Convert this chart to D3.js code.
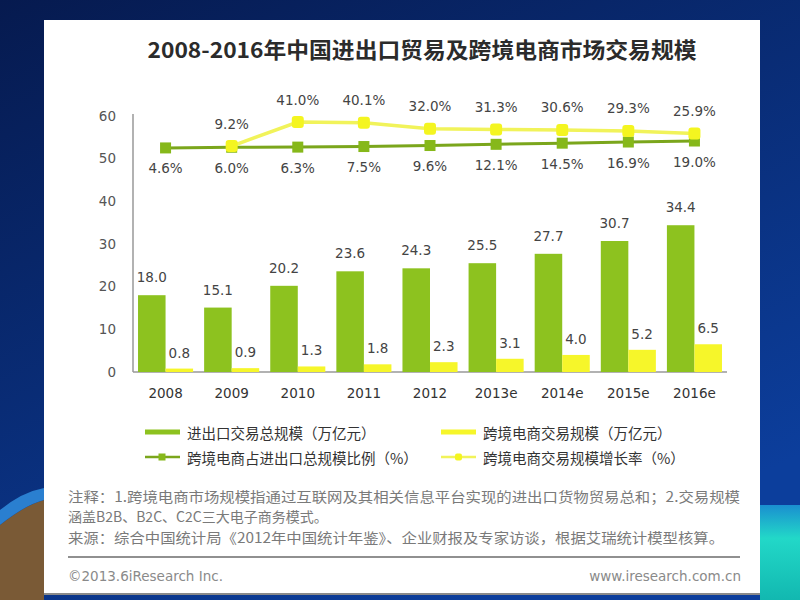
<!DOCTYPE html>
<html><head><meta charset="utf-8">
<script src="https://cdn.jsdelivr.net/npm/d3@7/dist/d3.min.js"></script>
<style>html,body{margin:0;padding:0;background:#0b2260;}svg{display:block;}</style>
</head><body>
<svg id="chart" width="800" height="600"></svg>
<script>
const categories = ["2008","2009","2010","2011","2012","2013e","2014e","2015e","2016e"];
const tradeTotal = [18.0,15.1,20.2,23.6,24.3,25.5,27.7,30.7,34.4];
const crossBorder = [0.8,0.9,1.3,1.8,2.3,3.1,4.0,5.2,6.5];
const shareRatio = [4.6,6.0,6.3,7.5,9.6,12.1,14.5,16.9,19.0];
const growthRate = [null,9.2,41.0,40.1,32.0,31.3,30.6,29.3,25.9];
const yTicks = [0,10,20,30,40,50,60];
const titleText = "2008-2016年中国进出口贸易及跨境电商市场交易规模";
const legendLabels = ["进出口交易总规模（万亿元）","跨境电商交易规模（万亿元）","跨境电商占进出口总规模比例（%）","跨境电商交易规模增长率（%）"];
const notes = ["注释：1.跨境电商市场规模指通过互联网及其相关信息平台实现的进出口货物贸易总和；2.交易规模","涵盖B2B、B2C、C2C三大电子商务模式。","来源：综合中国统计局《2012年中国统计年鉴》、企业财报及专家访谈，根据艾瑞统计模型核算。"];
const footerLeft = "©2013.6iResearch Inc.";
const footerRight = "www.iresearch.com.cn";

const GREEN = "#8dc21f", YELLOW = "#f6f62a", GREEN_LINE = "#7ba61c", YELLOW_LINE = "#f1f35a";
const FONT = "'DejaVu Sans','Noto Sans CJK SC',sans-serif";
const CJK = "'Noto Sans CJK SC','DejaVu Sans',sans-serif";

const svg = d3.select("#chart");
// background
const defs = svg.append("defs");
const g1 = defs.append("linearGradient").attr("id","bg").attr("x1","0").attr("y1","0").attr("x2","0.6").attr("y2","1");
g1.append("stop").attr("offset","0").attr("stop-color","#061a4f");
g1.append("stop").attr("offset","1").attr("stop-color","#0c3e9c");
svg.append("rect").attr("width",800).attr("height",600).attr("fill","url(#bg)");
const g2 = defs.append("linearGradient").attr("id","teal").attr("x1","0").attr("y1","0").attr("x2","0").attr("y2","1");
g2.append("stop").attr("offset","0").attr("stop-color","#1a8fd0");
g2.append("stop").attr("offset","0.35").attr("stop-color","#22d8c8");
g2.append("stop").attr("offset","1").attr("stop-color","#12b8b0");
svg.append("rect").attr("x",760).attr("y",505).attr("width",40).attr("height",95).attr("fill","url(#teal)");
svg.append("path").attr("d","M0,525 Q25,505 44,500 L44,600 L0,600 Z").attr("fill","#7a5a36");
svg.append("path").attr("d","M0,510 Q22,492 44,488 L44,500 Q25,505 0,525 Z").attr("fill","#2a7fd0");

// panel
svg.append("rect").attr("x",44).attr("y",20).attr("width",716).attr("height",574).attr("fill","#ffffff");
svg.append("line").attr("x1",44).attr("x2",760).attr("y1",594).attr("y2",594).attr("stroke","#8a8a8a").attr("stroke-width",2);

// title
svg.append("text").attr("x",422).attr("y",58).attr("text-anchor","middle")
  .attr("font-family",CJK).attr("font-weight","bold").attr("font-size",21.5).attr("fill","#2b2b2b")
  .attr("textLength",549).attr("lengthAdjust","spacingAndGlyphs").text(titleText);

// scales
const x = d3.scaleBand().domain(categories).range([133,727]).paddingInner(0.167).paddingOuter(0.076);
const xs = d3.scaleBand().domain(["total","cb"]).range([0,x.bandwidth()]);
const y = d3.scaleLinear().domain([0,60]).range([372,116]);
const yGrowth = d3.scaleLinear().domain([0,40]).range([y(51.33), y(58.4)]);
const yShare = d3.scaleLinear().domain([0,20]).range([y(52.0), y(54.25)]);

// axes
const yAxis = d3.axisLeft(y).tickValues(yTicks).tickSize(0).tickPadding(17);
const gy = svg.append("g").attr("transform","translate(133,0)").call(yAxis);
gy.select(".domain").remove();
gy.selectAll("text").attr("font-family",FONT).attr("font-size",13.5).attr("fill","#555");
svg.append("line").attr("x1",133).attr("x2",133).attr("y1",114).attr("y2",y(0)).attr("stroke","#999").attr("stroke-width",1.5);
svg.append("line").attr("x1",133).attr("x2",727).attr("y1",y(0)).attr("y2",y(0)).attr("stroke","#999").attr("stroke-width",1.5);

const xAxis = d3.axisBottom(x).tickSize(0).tickPadding(16);
const gx = svg.append("g").attr("transform",`translate(0,${y(0)})`).call(xAxis);
gx.select(".domain").remove();
gx.selectAll("text").attr("font-family",FONT).attr("font-size",13.5).attr("fill","#333");

// bars
const bars = svg.append("g");
bars.selectAll(".bt").data(tradeTotal).join("rect")
  .attr("x",(d,i)=>x(categories[i])+xs("total")).attr("width",xs.bandwidth())
  .attr("y",d=>y(d)).attr("height",d=>y(0)-y(d)).attr("fill",GREEN);
bars.selectAll(".bc").data(crossBorder).join("rect").attr("class","bc")
  .attr("x",(d,i)=>x(categories[i])+xs("cb")).attr("width",xs.bandwidth())
  .attr("y",d=>y(d)).attr("height",d=>y(0)-y(d)).attr("fill",YELLOW);
const lbl = svg.append("g").attr("font-family",FONT).attr("font-size",13.5).attr("fill","#444").attr("text-anchor","middle");
tradeTotal.forEach((d,i)=>{
  lbl.append("text").attr("x",x(categories[i])+xs("total")+xs.bandwidth()/2).attr("y",y(d)-13).text(d.toFixed(1));
});
crossBorder.forEach((d,i)=>{
  lbl.append("text").attr("x",x(categories[i])+xs("cb")+xs.bandwidth()/2).attr("y",y(d)-11).text(d.toFixed(1));
});

// lines
const cx = c => x(c)+x.bandwidth()/2;
const shareData = shareRatio.map((v,i)=>({c:categories[i],v}));
const growthData = growthRate.map((v,i)=>({c:categories[i],v})).filter(d=>d.v!==null);
const lineShare = d3.line().x(d=>cx(d.c)).y(d=>yShare(d.v));
const lineGrowth = d3.line().x(d=>cx(d.c)).y(d=>yGrowth(d.v));
svg.append("path").datum(shareData).attr("d",lineShare).attr("fill","none").attr("stroke",GREEN_LINE).attr("stroke-width",3);
svg.selectAll(".ms").data(shareData).join("rect").attr("class","ms")
  .attr("x",d=>cx(d.c)-5.5).attr("y",d=>yShare(d.v)-5.5).attr("width",11).attr("height",11).attr("fill","#86b81a");
svg.append("path").datum(growthData).attr("d",lineGrowth).attr("fill","none").attr("stroke",YELLOW_LINE).attr("stroke-width",3.5);
svg.selectAll(".mg").data(growthData).join("rect").attr("class","mg")
  .attr("x",d=>cx(d.c)-6).attr("y",d=>yGrowth(d.v)-6).attr("width",12).attr("height",12).attr("rx",3).attr("fill","#f4f520");

const pl = svg.append("g").attr("font-family",FONT).attr("font-size",13.5).attr("fill","#444").attr("text-anchor","middle");
shareData.forEach(d=>{ pl.append("text").attr("x",cx(d.c)).attr("y",yShare(d.v)+25.5).text(d.v.toFixed(1)+"%"); });
growthData.forEach(d=>{ pl.append("text").attr("x",cx(d.c)).attr("y",yGrowth(d.v)-17.5).text(d.v.toFixed(1)+"%"); });

// legend
const lg = svg.append("g").attr("font-family",CJK).attr("font-size",14.5).attr("fill","#333");
const legPos = [[145,432],[441,432],[145,457],[441,457]];
lg.append("rect").attr("x",145).attr("y",429.5).attr("width",35).attr("height",5).attr("fill",GREEN);
lg.append("rect").attr("x",441).attr("y",429.5).attr("width",35).attr("height",5).attr("fill",YELLOW);
lg.append("line").attr("x1",145).attr("x2",180).attr("y1",457).attr("y2",457).attr("stroke",GREEN_LINE).attr("stroke-width",2.5);
lg.append("rect").attr("x",158.5).attr("y",453.5).attr("width",7).attr("height",7).attr("fill","#86b81a");
lg.append("line").attr("x1",441).attr("x2",476).attr("y1",457).attr("y2",457).attr("stroke",YELLOW_LINE).attr("stroke-width",2.5);
lg.append("rect").attr("x",455).attr("y",453.5).attr("width",7).attr("height",7).attr("rx",2).attr("fill","#f4f520");
legendLabels.forEach((t,i)=>{
  lg.append("text").attr("x",legPos[i][0]+42).attr("y",legPos[i][1]).attr("dominant-baseline","central").text(t);
});

// notes
const nt = svg.append("g").attr("font-family",CJK).attr("font-size",14).attr("fill","#7a7a7a");
nt.append("text").attr("x",68).attr("y",502).attr("textLength",672).attr("lengthAdjust","spacingAndGlyphs").text(notes[0]);
nt.append("text").attr("x",68).attr("y",522).text(notes[1]);
nt.append("text").attr("x",68).attr("y",543).attr("textLength",656).attr("lengthAdjust","spacingAndGlyphs").text(notes[2]);
svg.append("line").attr("x1",68).attr("x2",740).attr("y1",557).attr("y2",557).attr("stroke","#909090").attr("stroke-width",2);
svg.append("text").attr("x",68).attr("y",581).attr("font-family",FONT).attr("font-size",13.5).attr("fill","#8a8a8a").text(footerLeft);
svg.append("text").attr("x",741).attr("y",581).attr("text-anchor","end").attr("font-family",FONT).attr("font-size",13.5).attr("fill","#8a8a8a").text(footerRight);
</script>
</body></html>
